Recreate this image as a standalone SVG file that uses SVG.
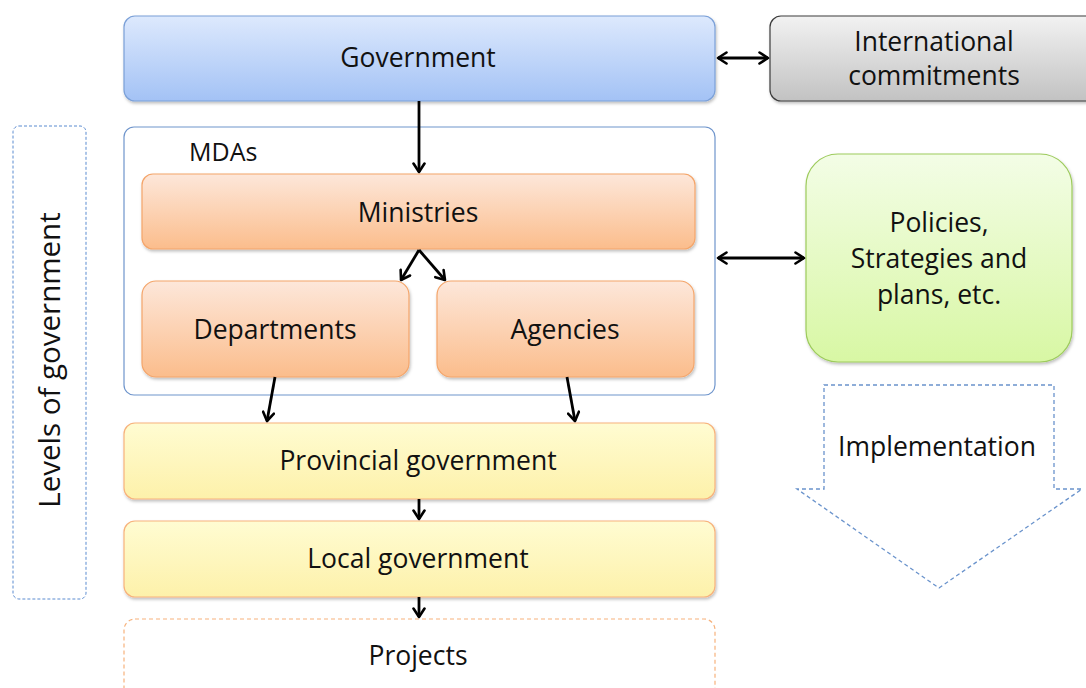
<svg xmlns="http://www.w3.org/2000/svg" width="1086" height="688" viewBox="0 0 1086 688">
<defs>
<linearGradient id="gBlue" x1="0" y1="0" x2="0" y2="1"><stop offset="0" stop-color="#dde9fd"/><stop offset="1" stop-color="#a3c2f5"/></linearGradient>
<linearGradient id="gGray" x1="0" y1="0" x2="0" y2="1"><stop offset="0" stop-color="#f2f2f2"/><stop offset="1" stop-color="#c2c2c2"/></linearGradient>
<linearGradient id="gOrange" x1="0" y1="0" x2="0" y2="1"><stop offset="0" stop-color="#fde7da"/><stop offset="1" stop-color="#fbbd8c"/></linearGradient>
<linearGradient id="gYellow" x1="0" y1="0" x2="0" y2="1"><stop offset="0" stop-color="#fffcd2"/><stop offset="1" stop-color="#fdf1aa"/></linearGradient>
<linearGradient id="gGreen" x1="0" y1="0" x2="0" y2="1"><stop offset="0" stop-color="#f3fde6"/><stop offset="1" stop-color="#d8f7a4"/></linearGradient>
<filter id="sh" x="-5%" y="-5%" width="110%" height="120%"><feDropShadow dx="1" dy="2" stdDeviation="1.5" flood-color="#000" flood-opacity="0.25"/></filter>
<marker id="ah" viewBox="0 0 14 14" refX="12" refY="7" markerWidth="14" markerHeight="14" markerUnits="userSpaceOnUse" orient="auto-start-reverse">
<path d="M3.5,1.5 L12,7 L3.5,12.5" fill="none" stroke="#000" stroke-width="2.6" stroke-linecap="round" stroke-linejoin="round"/>
</marker>
</defs>
<style>
text{font-family:"Open Sans","Lato","Liberation Sans",sans-serif;fill:#111;text-anchor:middle}
.t{font-size:26.5px}
.c{stroke:#000;stroke-width:2.8;fill:none}
</style>

<g id="levels">
<rect x="13" y="126" width="73" height="473" rx="6" fill="#fff" stroke="#5b8bd0" stroke-width="1" stroke-dasharray="3,2"/>
<text x="50" y="360" transform="rotate(-90 50 360)" dy="10" style="font-size:29.5px">Levels of government</text>
</g>

<g id="government">
<rect x="124" y="16" width="591" height="85" rx="11" fill="url(#gBlue)" stroke="#7ba0d8" stroke-width="1.2" filter="url(#sh)"/>
<text class="t" x="418" y="67">Government</text>
</g>

<g id="international">
<rect x="770" y="16" width="330" height="85" rx="11" fill="url(#gGray)" stroke="#3c3c3c" stroke-width="1.2" filter="url(#sh)"/>
<text class="t" x="934" y="51">International</text>
<text class="t" x="934" y="85">commitments</text>
</g>

<g id="mdas">
<rect x="124" y="127" width="591" height="268" rx="10" fill="#fff" stroke="#6f95cc" stroke-width="1.2"/>
<text x="189" y="161" style="font-size:25px;text-anchor:start">MDAs</text>
</g>

<g id="ministries">
<rect x="142" y="174" width="553" height="75" rx="11" fill="url(#gOrange)" stroke="#f4a56a" stroke-width="1.2" filter="url(#sh)"/>
<text class="t" x="418" y="222">Ministries</text>
</g>

<g id="departments">
<rect x="142" y="281" width="267" height="96" rx="14" fill="url(#gOrange)" stroke="#f4a56a" stroke-width="1.2" filter="url(#sh)"/>
<text class="t" x="275" y="339">Departments</text>
</g>

<g id="agencies">
<rect x="437" y="281" width="257" height="96" rx="14" fill="url(#gOrange)" stroke="#f4a56a" stroke-width="1.2" filter="url(#sh)"/>
<text class="t" x="565" y="339">Agencies</text>
</g>

<g id="policies">
<rect x="806" y="154" width="266" height="208" rx="32" fill="url(#gGreen)" stroke="#9dcb5c" stroke-width="1.2" filter="url(#sh)"/>
<text class="t" x="939" y="232">Policies,</text>
<text class="t" x="939" y="268">Strategies and</text>
<text class="t" x="939" y="304">plans, etc.</text>
</g>

<g id="implementation">
<path d="M824,385 L1054,385 L1054,489 L1082,489 L939,588 L797,489 L824,489 Z" fill="#fff" stroke="#6a93cc" stroke-width="1.3" stroke-dasharray="4,3"/>
<text class="t" x="937" y="456">Implementation</text>
</g>

<g id="provincial">
<rect x="124" y="423" width="591" height="76" rx="11" fill="url(#gYellow)" stroke="#f7b27c" stroke-width="1.2" filter="url(#sh)"/>
<text class="t" x="418" y="470">Provincial government</text>
</g>

<g id="local">
<rect x="124" y="521" width="591" height="76" rx="11" fill="url(#gYellow)" stroke="#f7b27c" stroke-width="1.2" filter="url(#sh)"/>
<text class="t" x="418" y="568">Local government</text>
</g>

<g id="projects">
<rect x="124" y="619" width="591" height="80" rx="11" fill="#fff" stroke="#f7b27c" stroke-width="1.2" stroke-dasharray="4,3"/>
<text class="t" x="418" y="665">Projects</text>
</g>

<g id="connectors">
<line class="c" x1="419" y1="101" x2="419" y2="172" marker-end="url(#ah)"/>
<line class="c" x1="718" y1="58" x2="768" y2="58" marker-start="url(#ah)" marker-end="url(#ah)"/>
<line class="c" x1="718" y1="258" x2="804" y2="258" marker-start="url(#ah)" marker-end="url(#ah)"/>
<line class="c" x1="419" y1="250" x2="401" y2="280" marker-end="url(#ah)"/>
<line class="c" x1="419" y1="250" x2="445" y2="280" marker-end="url(#ah)"/>
<line class="c" x1="275" y1="377" x2="267" y2="421" marker-end="url(#ah)"/>
<line class="c" x1="567" y1="377" x2="575" y2="421" marker-end="url(#ah)"/>
<line class="c" x1="419" y1="499" x2="419" y2="519" marker-end="url(#ah)"/>
<line class="c" x1="419" y1="597" x2="419" y2="617" marker-end="url(#ah)"/>
</g>
</svg>
